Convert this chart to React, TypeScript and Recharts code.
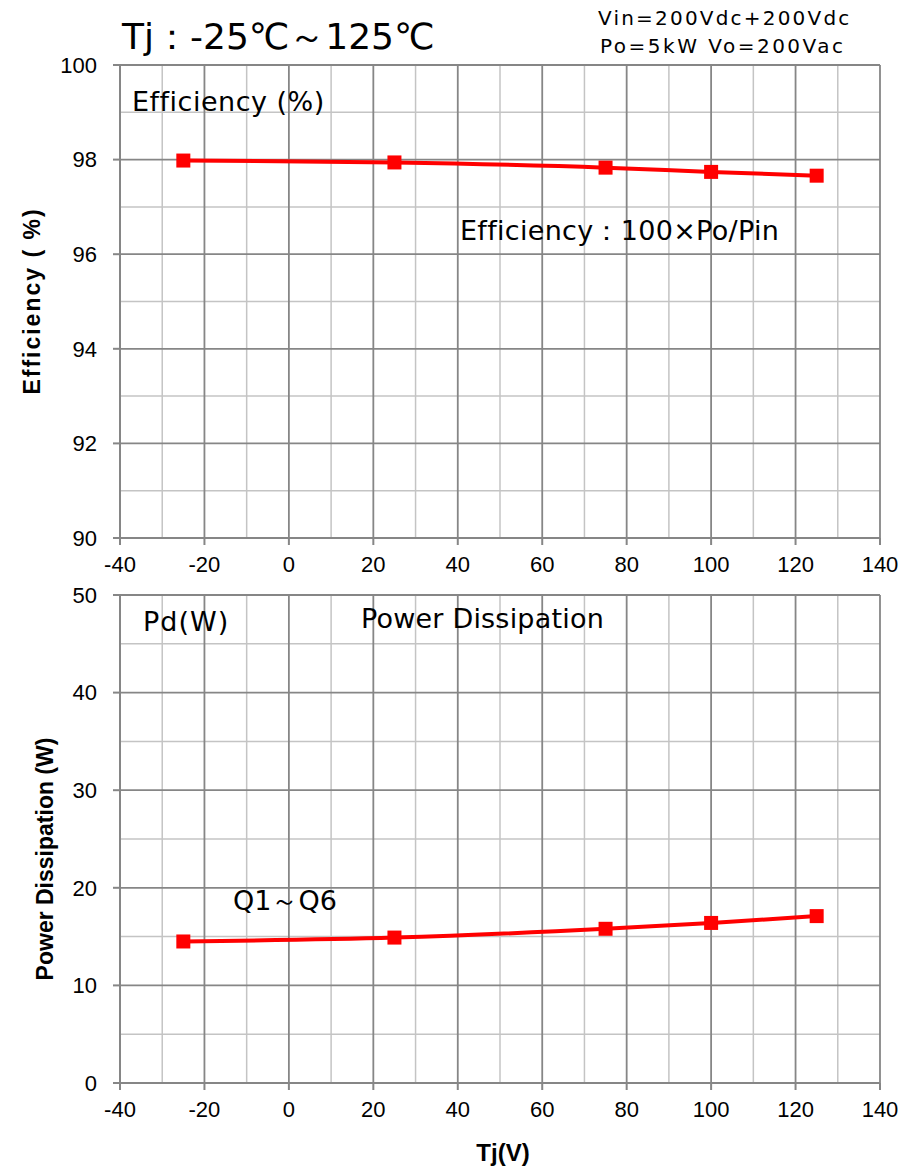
import { LineChart, Line, XAxis, YAxis, CartesianGrid } from "recharts";

const tempC = [-25, 25, 75, 100, 125];
const efficiency = [97.98, 97.94, 97.83, 97.74, 97.66];
const powerLoss = [14.5, 14.9, 15.8, 16.4, 17.1];

const xTicks = [-40, -20, 0, 20, 40, 60, 80, 100, 120, 140];
const xMinor = [-30, -10, 10, 30, 50, 70, 90, 110, 130];
const effTicks = [90, 92, 94, 96, 98, 100];
const effMinor = [91, 93, 95, 97, 99];
const pdTicks = [0, 10, 20, 30, 40, 50];
const pdMinor = [5, 15, 25, 35, 45];

const effData = tempC.map((t, i) => ({ t, v: efficiency[i] }));
const pdData = tempC.map((t, i) => ({ t, v: powerLoss[i] }));

const RED = "#ff0000";
const MAJOR = "#868686";
const MINOR = "#c4c4c4";
const tick = { fill: "#000", fontSize: 22, fontFamily: "'Liberation Sans', Arial, sans-serif" };
const noteFont = "'DejaVu Sans', Verdana, sans-serif";

// square marker like the Excel original
const SquareDot = (props: any) => {
  const { cx, cy } = props;
  if (cx == null || cy == null) return null;
  return <rect x={cx - 7} y={cy - 7} width={14} height={14} fill={RED} />;
};

function Note({ x, y, size, children, spacing = 0 }: { x: number; y: number; size: number; children: any; spacing?: number }) {
  return (
    <div
      style={{
        position: "absolute",
        left: x,
        top: y,
        transform: "translateY(-50%)",
        fontFamily: noteFont,
        fontSize: size,
        letterSpacing: spacing,
        lineHeight: 1,
        whiteSpace: "nowrap",
        color: "#000",
      }}
    >
      {children}
    </div>
  );
}

function VLabel({ cx, cy, spacing = 0, children }: { cx: number; cy: number; spacing?: number; children: any }) {
  return (
    <div
      style={{
        position: "absolute",
        left: cx,
        top: cy,
        transform: "translate(-50%, -50%) rotate(-90deg)",
        fontFamily: "'Liberation Sans', Arial, sans-serif",
        fontWeight: "bold",
        fontSize: 23,
        letterSpacing: spacing,
        lineHeight: 1,
        whiteSpace: "nowrap",
      }}
    >
      {children}
    </div>
  );
}

function Panel({ data, yDomain, yTicks, yMinor, height, top, xLabel }: any) {
  return (
    <LineChart width={910} height={height} data={data} margin={{ top, right: 30, bottom: 0, left: 0 }}>
      <CartesianGrid stroke={MINOR} strokeWidth={1.5} verticalValues={xMinor} horizontalValues={yMinor} />
      <CartesianGrid stroke={MAJOR} strokeWidth={1.8} verticalValues={xTicks} horizontalValues={yTicks} />
      <XAxis
        dataKey="t"
        type="number"
        domain={[-40, 140]}
        ticks={xTicks}
        interval={0}
        tick={tick}
        tickSize={7}
        tickMargin={11}
        height={xLabel ? 88 : 62}
        stroke={MAJOR}
        strokeWidth={2}
      />
      <YAxis
        type="number"
        domain={yDomain}
        ticks={yTicks}
        interval={0}
        tick={tick}
        tickSize={7}
        tickMargin={16}
        width={120}
        stroke={MAJOR}
        strokeWidth={2}
      />
      <Line
        dataKey="v"
        type="monotone"
        stroke={RED}
        strokeWidth={4}
        dot={<SquareDot />}
        activeDot={false}
        isAnimationActive={false}
      />
    </LineChart>
  );
}

export default function App() {
  return (
    <div style={{ position: "absolute", top: 0, left: 0, width: 910, height: 1171, background: "#fff" }}>
      <div style={{ position: "absolute", top: 0, left: 0 }}>
        <Panel data={effData} yDomain={[90, 100]} yTicks={effTicks} yMinor={effMinor} height={600} top={65} />
      </div>
      <div style={{ position: "absolute", top: 540, left: 0 }}>
        <Panel data={pdData} yDomain={[0, 50]} yTicks={pdTicks} yMinor={pdMinor} height={631} top={55} xLabel />
      </div>

      <Note x={122} y={37} size={36}>Tj：-25℃～125℃</Note>
      <Note x={598} y={18} size={20} spacing={2.2}>Vin=200Vdc+200Vdc</Note>
      <Note x={600} y={46} size={20} spacing={2.5}>Po=5kW Vo=200Vac</Note>
      <Note x={132} y={101} size={27} spacing={0.5}>Efficiency (%)</Note>
      <Note x={460} y={230} size={27} spacing={0.3}>Efficiency：100×Po/Pin</Note>
      <Note x={143} y={621} size={27} spacing={1}>Pd(W)</Note>
      <Note x={361} y={618} size={27} spacing={0.2}>Power Dissipation</Note>
      <Note x={233} y={900} size={27}>Q1～Q6</Note>

      <VLabel cx={32} cy={301} spacing={2}>Efficiency ( %)</VLabel>
      <VLabel cx={45} cy={859}>Power Dissipation (W)</VLabel>
      <div
        style={{
          position: "absolute",
          left: 503,
          top: 1153,
          transform: "translate(-50%, -50%)",
          fontFamily: "'Liberation Sans', Arial, sans-serif",
          fontWeight: "bold",
          fontSize: 24,
          lineHeight: 1,
        }}
      >
        Tj(V)
      </div>
    </div>
  );
}
